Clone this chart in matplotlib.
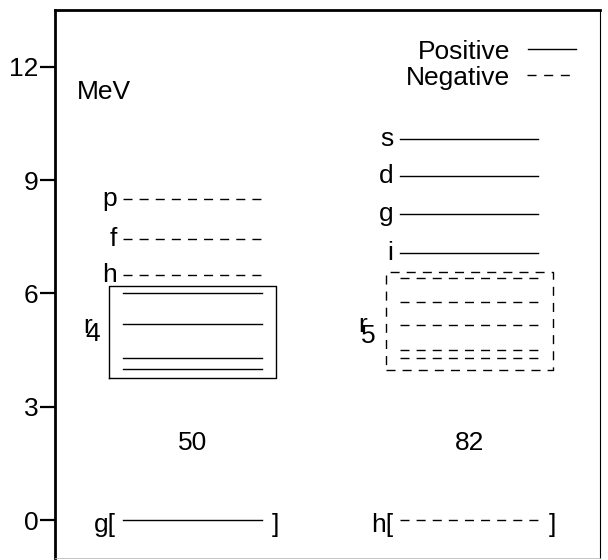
import matplotlib.pyplot as plt

plt.rcParams['font.family'] = ['Liberation Sans', 'DejaVu Sans']

# ---------------- data ----------------
yticks = [0, 3, 6, 9, 12]
group_names = ["50", "82"]

# N=50 side: negative levels above the box, positive levels inside the box
left_names = ["p", "f", "h"]
left_levels = [8.5, 7.45, 6.48]
left_box_levels = [6.0, 5.2, 4.3, 4.0]
left_box_range = [3.75, 6.2]
left_box_label = ["r", "4"]
left_ground = "g["

# N=82 side: positive levels above the box, negative levels inside the box
right_names = ["s", "d", "g", "i"]
right_levels = [10.1, 9.1, 8.1, 7.07]
right_box_levels = [6.4, 5.78, 5.17, 4.5, 4.28]
right_box_range = [3.98, 6.58]
right_box_label = ["r", "5"]
right_ground = "h["

# ---------------- layout ----------------
centers = [2.52, 7.6]
half_line = 1.27
half_box = 1.53
fs = 19
dash = (6.5, 5.1)

fig = plt.figure(figsize=(6.08, 5.6), dpi=100)
ax = fig.add_axes([0.0905, 0.004, 0.8964, 0.9775])
ax.set_xlim(0, 10)
ax.set_ylim(-1, 13.5)


def level(x0, y, dashed):
    if dashed:
        ax.plot([x0 - half_line, x0 + half_line], [y, y], color="black", lw=1.0,
                dashes=dash)
    else:
        ax.plot([x0 - half_line, x0 + half_line], [y, y], color="black", lw=1.0)


def box(x0, yr, dashed):
    xs = [x0 - half_box, x0 + half_box, x0 + half_box, x0 - half_box, x0 - half_box]
    ys = [yr[0], yr[0], yr[1], yr[1], yr[0]]
    if dashed:
        ax.plot(xs, ys, color="black", lw=1.0, dashes=dash)
    else:
        ax.plot(xs, ys, color="black", lw=1.0)


def labelled(x0, names, vals, dashed):
    for n, v in zip(names, vals):
        level(x0, v, dashed)
        ax.text(x0 - half_line - 0.12, v - 0.18, n, ha="right", va="baseline", fontsize=fs)


# left group
cl, cr = centers
labelled(cl, left_names, left_levels, True)
box(cl, left_box_range, False)
for v in left_box_levels:
    level(cl, v, False)
ax.text(cl - half_box - 0.48, 4.96, left_box_label[0], ha="left", va="baseline", fontsize=fs)
ax.text(cl - half_box - 0.43, 4.74, left_box_label[1], ha="left", va="baseline", fontsize=fs)

# right group
labelled(cr, right_names, right_levels, False)
box(cr, right_box_range, True)
for v in right_box_levels:
    level(cr, v, True)
ax.text(cr - half_box - 0.5, 4.98, right_box_label[0], ha="left", va="baseline", fontsize=fs)
ax.text(cr - half_box - 0.46, 4.7, right_box_label[1], ha="left", va="baseline", fontsize=fs)

# magic numbers
for c, g in zip(centers, group_names):
    ax.text(c, 1.85, g, ha="center", va="baseline", fontsize=fs)

# ground states
level(cl, 0, False)
ax.text(cl - half_line - 0.13, -0.32, left_ground, ha="right", va="baseline", fontsize=fs)
ax.text(cl + half_box, -0.32, "]", ha="center", va="baseline", fontsize=fs)
level(cr, 0, True)
ax.text(cr - half_line - 0.13, -0.32, right_ground, ha="right", va="baseline", fontsize=fs)
ax.text(cr + half_box, -0.32, "]", ha="center", va="baseline", fontsize=fs)

# unit label
ax.text(0.4, 11.16, "MeV", ha="left", va="baseline", fontsize=fs)

# legend (text on the left, line on the right)
ax.text(8.35, 12.2, "Positive", ha="right", va="baseline", fontsize=fs)
ax.plot([8.67, 9.55], [12.47, 12.47], color="black", lw=1.0)
ax.text(8.35, 11.53, "Negative", ha="right", va="baseline", fontsize=fs)
ax.plot([8.66, 9.44], [11.78, 11.78], color="black", lw=1.0, dashes=(6.5, 5.5))

# axes styling
ax.set_xticks([])
ax.set_yticks(yticks)
ax.set_yticklabels([str(t) for t in yticks], fontsize=fs)
ax.tick_params(axis="y", length=11, width=1.6, pad=1)
ax.spines["left"].set_linewidth(2)
ax.spines["top"].set_linewidth(2)
ax.spines["right"].set_linewidth(0.8)
ax.spines["bottom"].set_linewidth(0.6)
ax.spines["bottom"].set_color("#bbbbbb")

fig.savefig("out.png", dpi=100)
